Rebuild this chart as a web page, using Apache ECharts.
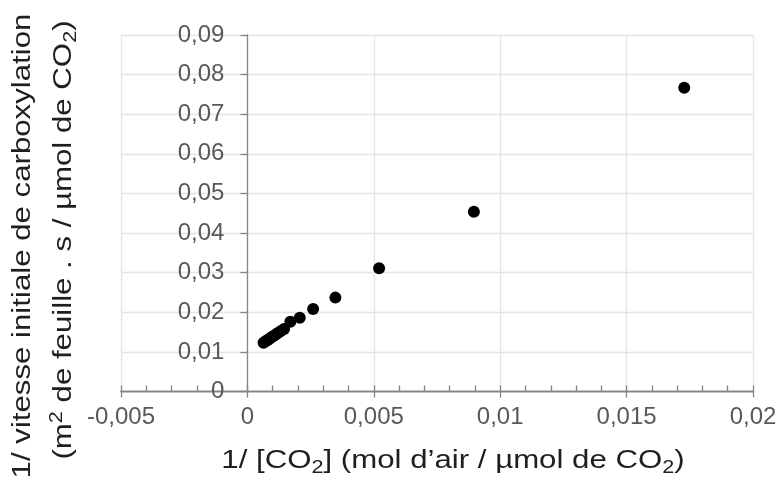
<!DOCTYPE html>
<html>
<head>
<meta charset="utf-8">
<script src="https://cdn.jsdelivr.net/npm/echarts@6/dist/echarts.min.js"></script>
<style>html,body{margin:0;padding:0;background:#fff;}#chart{width:780px;height:484px;}</style>
</head>
<body>
<div id="chart"></div>
<script>
// 1/[CO2] values (mol d'air / µmol de CO2)
const invCO2 = [0.00064, 0.00072, 0.00080, 0.00089, 0.00098, 0.00108, 0.00119, 0.00131, 0.00145, 0.00170, 0.00207, 0.00260, 0.00348, 0.00521, 0.00896, 0.01728];
// 1/ vitesse initiale de carboxylation
const invRate = [0.0123, 0.0127, 0.0130, 0.0134, 0.0138, 0.0142, 0.0147, 0.0152, 0.0158, 0.0176, 0.0186, 0.0208, 0.0237, 0.0311, 0.0454, 0.0767];

const xMin = -0.005, xMax = 0.02, xStep = 0.005;
const yMin = 0, yMax = 0.09, yStep = 0.01;

const xTitle = '1/ [CO{sub|2}] (mol d\u2019air / \u00b5mol de CO{sub|2})';
const yTitle1 = '1/ vitesse initiale de carboxylation';
const yTitle2 = '(m{sup|2} de feuille . s / \u00b5mol de CO{sub|2})';

const FONT = '"Liberation Sans", Arial, sans-serif';
const axisGray = '#858585';
const gridGray = '#e4e4e4';
const labelGray = '#595959';
const titleColor = '#1f1f1f';

const fmt = v => String(+(+v).toFixed(4)).replace('.', ',');

const richSubSup = {
  sub: { fontSize: 18, fontFamily: FONT, fill: titleColor, padding: [14, 0, 0, 0] },
  sup: { fontSize: 18, fontFamily: FONT, fill: titleColor, padding: [0, 0, 14, 0] }
};

const gridLeft = 121, gridRight = 27;
const plotWidth = 780 - gridLeft - gridRight;
// shift the y axis onto x = 0 through the x scale
const yAxisOffset = -plotWidth * (0 - xMin) / (xMax - xMin);

const chart = echarts.init(document.getElementById('chart'));
chart.setOption({
  animation: false,
  backgroundColor: '#fff',
  grid: { left: gridLeft, right: gridRight, top: 35, bottom: 92.5, containLabel: false },
  xAxis: [
    {
      type: 'value', min: xMin, max: xMax, interval: xStep, position: 'bottom',
      axisLine: { show: true, onZero: false, lineStyle: { color: axisGray, width: 1.3 } },
      axisTick: { show: true, inside: false, length: 6, lineStyle: { color: axisGray, width: 1.3 } },
      minorTick: { show: false },
      axisLabel: { show: true, margin: 14, color: labelGray, fontSize: 24, fontFamily: FONT, formatter: fmt },
      splitLine: { show: true, lineStyle: { color: gridGray, width: 1.3 } }
    },
    {
      type: 'value', min: xMin, max: xMax, interval: xStep, position: 'bottom',
      axisLine: { show: true, onZero: false, lineStyle: { color: axisGray, width: 1.3 } },
      axisTick: { show: true, inside: true, length: 6, lineStyle: { color: axisGray, width: 1.3 } },
      minorTick: { show: true, splitNumber: 5, length: 6, lineStyle: { color: axisGray, width: 1.3 } },
      axisLabel: { show: false },
      splitLine: { show: false }
    }
  ],
  yAxis: {
    type: 'value', min: yMin, max: yMax, interval: yStep, position: 'left', offset: yAxisOffset,
    axisLine: { show: true, onZero: false, lineStyle: { color: axisGray, width: 1.3 } },
    axisTick: { show: true, inside: false, length: 7, lineStyle: { color: axisGray, width: 1.3 } },
    axisLabel: { show: true, margin: 23, color: labelGray, fontSize: 24, fontFamily: FONT, formatter: fmt },
    splitLine: { show: true, lineStyle: { color: gridGray, width: 1.3 } }
  },
  series: [{
    type: 'scatter',
    xAxisIndex: 0,
    yAxisIndex: 0,
    symbol: 'circle',
    symbolSize: 12,
    itemStyle: { color: '#000', opacity: 1 },
    data: invCO2.map((x, i) => [x, invRate[i]])
  }],
  graphic: [
    {
      type: 'text', x: 453, y: 461, scaleX: 1.2,
      style: { text: xTitle, fontSize: 26, fontFamily: FONT, fill: titleColor, align: 'center', verticalAlign: 'middle', rich: richSubSup }
    },
    {
      type: 'text', x: 23, y: 246, rotation: Math.PI / 2, scaleX: 1.2,
      style: { text: yTitle1, fontSize: 26, fontFamily: FONT, fill: titleColor, align: 'center', verticalAlign: 'middle' }
    },
    {
      type: 'text', x: 64, y: 240, rotation: Math.PI / 2, scaleX: 1.2,
      style: { text: yTitle2, fontSize: 26, fontFamily: FONT, fill: titleColor, align: 'center', verticalAlign: 'middle', rich: richSubSup }
    }
  ]
});
</script>
</body>
</html>
